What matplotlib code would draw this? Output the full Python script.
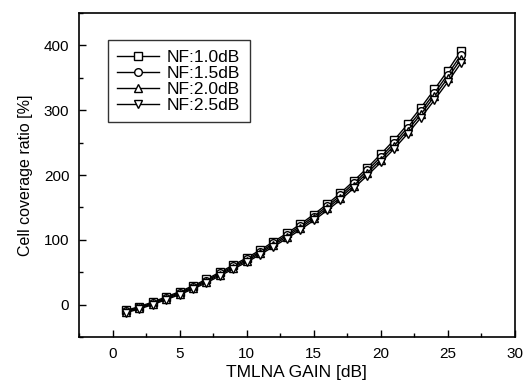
import matplotlib
matplotlib.use("Agg")
import matplotlib.pyplot as plt
from matplotlib.ticker import MultipleLocator

plt.rcParams['font.family'] = ['Liberation Sans', 'DejaVu Sans']

gain = list(range(1, 27))
nf10 = [-9, -3, 4, 12, 20, 29, 39, 50, 61, 72, 84, 97, 110, 124, 139, 155, 172, 191, 211, 232, 254, 278, 304, 332, 361, 392]
nf15 = [-10.2, -4.3, 2.6, 10.5, 18.4, 27.3, 37.2, 48.1, 58.9, 69.8, 81.6, 94.4, 107.3, 121.1, 135.9, 151.7, 168.5, 187.2, 207.0, 227.7, 249.4, 273.1, 298.7, 326.4, 355.0, 385.6]
nf20 = [-11.3, -5.4, 1.4, 9.2, 17.0, 25.8, 35.5, 46.3, 57.0, 67.7, 79.4, 92.1, 104.8, 118.4, 133.0, 148.6, 165.2, 183.7, 203.2, 223.7, 245.2, 268.6, 293.9, 321.2, 349.5, 379.7]
nf25 = [-12.5, -6.7, 0.0, 7.7, 15.4, 24.1, 33.7, 44.3, 54.9, 65.5, 77.0, 89.5, 102.0, 115.5, 129.9, 145.3, 161.7, 179.9, 199.2, 219.4, 240.5, 263.6, 288.6, 315.6, 343.5, 373.3]
labels = ["NF:1.0dB", "NF:1.5dB", "NF:2.0dB", "NF:2.5dB"]
markers = ["s", "o", "^", "v"]

fig = plt.figure(figsize=(5.28, 3.88), dpi=100)
ax = fig.add_axes([0.1496, 0.1314, 0.8254, 0.8351])

for ys, lab, m in zip([nf10, nf15, nf20, nf25], labels, markers):
    ax.plot(gain, ys, color='black', lw=1.0, marker=m, markersize=5.5,
            markerfacecolor='white', markeredgecolor='black', markeredgewidth=1.0, label=lab)

ax.set_xlim(-2.5, 30)
ax.set_ylim(-50, 450)
ax.xaxis.set_major_locator(MultipleLocator(5))
ax.xaxis.set_minor_locator(MultipleLocator(2.5))
ax.yaxis.set_major_locator(MultipleLocator(100))
ax.yaxis.set_minor_locator(MultipleLocator(50))
ax.tick_params(which='both', direction='in', top=False, right=False, labelsize=11, width=1, pad=7)
ax.tick_params(which='major', length=5)
ax.tick_params(which='minor', length=3)
for s in ax.spines.values():
    s.set_linewidth(1.2)

ax.set_xlabel("TMLNA GAIN [dB]", fontsize=12.5, labelpad=3)
ax.set_ylabel("Cell coverage ratio [%]", fontsize=11.5, labelpad=8)

leg = ax.legend(loc='upper left', bbox_to_anchor=(0.066, 0.917), fontsize=12.5, frameon=True,
                fancybox=False, edgecolor='black', handlelength=2.4, labelspacing=0.05,
                borderpad=0.55, handletextpad=0.45, borderaxespad=0)
leg.get_frame().set_linewidth(1.0)

fig.savefig("out.png", dpi=100)
